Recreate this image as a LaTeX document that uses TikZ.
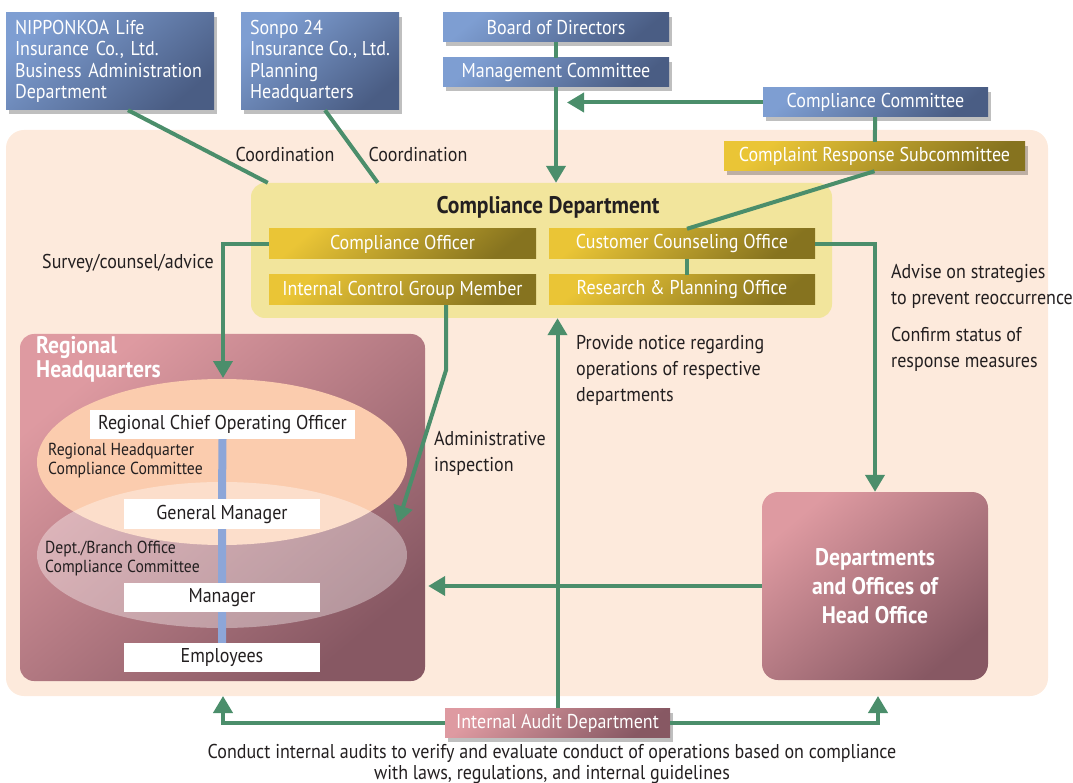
\documentclass[tikz,border=0pt]{standalone}
\usepackage{fontspec}
\setmainfont{PT Sans}[FakeStretch=0.9]
\usetikzlibrary{arrows.meta,shadows,calc}
\definecolor{bgpeach}{HTML}{FDEADC}
\definecolor{cdyellow}{HTML}{F2E59C}
\definecolor{blueL}{HTML}{7E9ED2}
\definecolor{blueD}{HTML}{4A5D84}
\definecolor{goldL}{HTML}{EAC536}
\definecolor{goldD}{HTML}{86731F}
\definecolor{pinkL}{HTML}{DE9AA1}
\definecolor{pinkD}{HTML}{875863}
\definecolor{lgreen}{HTML}{4B8E6B}
\definecolor{vblue}{HTML}{8DA6D8}
\definecolor{peachE}{HTML}{FBCCAE}
\definecolor{txt}{HTML}{231F20}
\newcommand\fsz[2]{\fontsize{#1}{#2}\selectfont}
\tikzset{
  box/.style={inner sep=0pt, text=white, align=center, font=\fsz{20}{21.3}},
  shad/.style={drop shadow={shadow xshift=3pt,shadow yshift=-4pt,opacity=0.25,fill=black}},
  bluebox/.style={box, shad, left color=blueL, right color=blueD, shading angle=40},
  goldbox/.style={box, left color=goldL, right color=goldD, shading angle=40},
  pinkbox/.style={box, left color=pinkL, right color=pinkD, shading angle=40},
  whitebox/.style={inner sep=0pt, fill=white, text=txt, font=\fsz{20}{21}},
  lbl/.style={inner sep=0pt, text=txt, align=left, font=\fsz{20}{26}},
  slbl/.style={inner sep=0pt, text=txt, align=left, font=\fsz{17.4}{19}},
  gline/.style={draw=lgreen, line width=4pt},
  arr/.style={gline, -{Triangle[width=19pt,length=17pt]}},
}
\begin{document}
\begin{tikzpicture}[x=1pt,y=-1pt]
\useasboundingbox (0,0) rectangle (1073,783);
% background
\node[fill=bgpeach, rounded corners=18pt, minimum width=1042, minimum height=566, inner sep=0pt] (bg) at (527,413) {};
% compliance department container
\node[fill=cdyellow, rounded corners=14pt, minimum width=581, minimum height=135, inner sep=0pt] (cd) at (541.5,250.5) {};
\node[inner sep=0pt, text=txt, font=\bfseries\fsz{24}{26}] (cdtitle) at (548,207) {Compliance Department};
% top boxes
\node[bluebox, minimum width=208, minimum height=97, text width=190, align=left] (nip) at (110,61.5) {NIPPONKOA Life\\Insurance Co., Ltd.\\Business Administration\\Department};
\node[bluebox, minimum width=158, minimum height=97, align=left] (son) at (320,61.5) {Sonpo 24\\Insurance Co., Ltd.\\Planning\\Headquarters};
\node[bluebox, minimum width=226, minimum height=29] (bod) at (556,27.5) {Board of Directors};
\node[bluebox, minimum width=226, minimum height=29] (mc) at (556,72.5) {Management Committee};
\node[bluebox, minimum width=225, minimum height=29] (cc) at (875.5,102.5) {Compliance Committee};
\node[goldbox, shad, minimum width=301, minimum height=29] (crs) at (874.5,156.5) {Complaint Response Subcommittee};
% inner compliance boxes
\node[goldbox, minimum width=267, minimum height=30] (co) at (402.5,244) {Compliance Officer};
\node[goldbox, minimum width=266, minimum height=30] (cco) at (682,244) {Customer Counseling Office};
\node[goldbox, minimum width=267, minimum height=30] (icg) at (402.5,290) {Internal Control Group Member};
\node[goldbox, minimum width=266, minimum height=30] (rpo) at (682,290) {Research \& Planning Office};
% regional headquarters
\node[pinkbox, rounded corners=14pt, minimum width=405, minimum height=347] (rhq) at (222.5,507.5) {};
\node[inner sep=0pt, text=white, align=left, anchor=west, font=\bfseries\fsz{24}{24}] (rhqtitle) at (36,359) {Regional\\Headquarters};
\fill[peachE] (222,462) ellipse [x radius=185, y radius=83];
\fill[white, opacity=0.36] (222,555) ellipse [x radius=185, y radius=73];
\node[whitebox, minimum width=265, minimum height=29] (rcoo) at (222.5,424.5) {Regional Chief Operating Officer};
\node[whitebox, minimum width=196, minimum height=30] (gm) at (222,514) {General Manager};
\node[whitebox, minimum width=196, minimum height=29] (mgr) at (222,597.5) {Manager};
\node[whitebox, minimum width=196, minimum height=29] (emp) at (222,657.5) {Employees};
\draw[draw=vblue, line width=8pt] (rcoo.south) -- (gm.north) (gm.south) -- (mgr.north) (mgr.south) -- (emp.north);
\node[slbl, anchor=west] (rhqcc) at (48,461) {Regional Headquarter\\Compliance Committee};
\node[slbl, anchor=west] (dbcc) at (45,559) {Dept./Branch Office\\Compliance Committee};
% departments and offices
\node[pinkbox, rounded corners=16pt, minimum width=226, minimum height=188, font=\bfseries\fsz{24}{29}] (dept) at (875,586) {Departments\\and Offices of\\Head Office};
% internal audit
\node[pinkbox, shad, minimum width=225, minimum height=29] (iad) at (557.5,723) {Internal Audit Department};
% coordinates for free ends
\coordinate (rtop) at (223,378);
\coordinate (icgtip) at (398,523);
\coordinate (lbot) at (223,696);
\coordinate (rbot) at (878,696);
% connectors
\draw[gline] ([xshift=18pt]nip.south) -- ([xshift=17pt]cd.north west);
\draw[gline] ([xshift=5pt]son.south) -- ([xshift=127pt]cd.north west);
\draw[gline] (bod) -- (mc);
\draw[arr] (mc.south) -- (mc.south |- cd.north);
\draw[arr] (cc.west) -- ([xshift=11pt]cc.west -| mc.south);
\draw[gline] (cc) -- (crs);
\draw[gline] (crs.south) -- ([xshift=5pt]cco.north);
\draw[gline] ([xshift=5pt]cco.south) -- ([xshift=5pt]rpo.north);
\draw[arr] (co.west) -| (rtop);
\draw[arr] ([xshift=43.5pt]icg.south) -- ++(0,65) -- (icgtip);
\draw[arr] (iad.north) -- (iad.north |- cd.south);
\draw[arr] (cco.east) -| (dept.north);
\draw[arr] (dept.west) -- ([xshift=3pt]dept.west -| rhq.east);
\draw[arr] (iad.west) -| (lbot);
\draw[arr] (iad.east) -| (rbot);
% labels
\node[lbl] (coord1) at (285,155) {Coordination};
\node[lbl] (coord2) at (418,155) {Coordination};
\node[lbl, anchor=west] (survey) at (42,263) {Survey/counsel/advice};
\node[lbl, anchor=west] (advise) at (891,286) {Advise on strategies\\to prevent reoccurrence};
\node[lbl, anchor=west] (confirm) at (891,349) {Confirm status of\\response measures};
\node[lbl, anchor=west] (notice) at (576,370) {Provide notice regarding\\operations of respective\\departments};
\node[lbl, anchor=west] (admin) at (434,453) {Administrative\\inspection};
\node[inner sep=0pt, text=txt, align=center, font=\fsz{20}{21}] (bottom) at (552,764) {Conduct internal audits to verify and evaluate conduct of operations based on compliance\\with laws, regulations, and internal guidelines};
\end{tikzpicture}
\end{document}
